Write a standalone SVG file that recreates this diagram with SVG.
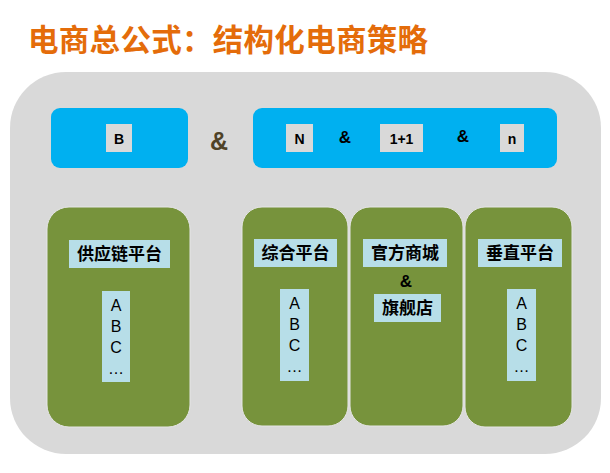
<svg xmlns="http://www.w3.org/2000/svg" width="610" height="473" viewBox="0 0 610 473">
<style>
.title{font-family:"Noto Sans CJK SC","Liberation Sans",sans-serif;font-weight:bold;font-size:30.5px;fill:#E46C0A}
.blue{fill:#00B0F0}
.green{fill:#77933C;stroke:#E6E6E6;stroke-width:1}
.gbox{fill:#D9D9D9}
.lbox{fill:#B7DEE8}
.sm{font-family:"Liberation Sans","Noto Sans CJK SC",sans-serif;font-weight:bold;font-size:14px;fill:#000;text-anchor:middle}
.amp{font-family:"Liberation Sans",sans-serif;font-weight:bold;font-size:17px;fill:#000;text-anchor:middle}
.cn{font-family:"Noto Sans CJK SC",sans-serif;font-weight:bold;font-size:17px;fill:#000;text-anchor:middle}
.lst{font-family:"Liberation Sans",sans-serif;font-size:16px;fill:#000;text-anchor:middle}
</style>
<rect width="610" height="473" fill="#FFFFFF"/>
<text class="title" x="28" y="51" textLength="400" lengthAdjust="spacing">电商总公式：结构化电商策略</text>
<rect x="10" y="72" width="591" height="382" rx="56" fill="#D9D9D9"/>

<g id="nodeB">
<rect class="blue" x="51" y="108" width="137" height="60" rx="9"/>
<rect class="gbox" x="106" y="124" width="26" height="28"/>
<text class="sm" x="119" y="143.5">B</text>
</g>
<g id="ampMain">
<text x="219" y="150" font-family="Liberation Sans,sans-serif" font-weight="bold" font-size="25" fill="#4F4227" text-anchor="middle">&amp;</text>
</g>
<g id="nodeN">
<rect class="blue" x="253" y="108" width="304" height="60" rx="9"/>
<rect class="gbox" x="286" y="124" width="27" height="28"/>
<text class="sm" x="299.5" y="143.5">N</text>
<text class="amp" x="345" y="143">&amp;</text>
<rect class="gbox" x="380" y="124" width="43" height="28"/>
<text class="sm" x="401.5" y="143.5">1+1</text>
<text class="amp" x="463" y="142">&amp;</text>
<rect class="gbox" x="500" y="124" width="24" height="28"/>
<text class="sm" x="512" y="143.5">n</text>
</g>

<g id="supply">
<rect class="green" x="47" y="207" width="143" height="220" rx="22"/>
<rect class="lbox" x="69" y="240" width="101" height="28"/>
<text class="cn" x="119.5" y="260">供应链平台</text>
<rect class="lbox" x="102" y="291" width="28" height="91"/>
<text class="lst" x="116" y="311">A</text>
<text class="lst" x="116" y="332">B</text>
<text class="lst" x="116" y="353">C</text>
<text class="lst" x="116" y="374">…</text>
</g>

<g id="comprehensive">
<rect class="green" x="242" y="207" width="106" height="219" rx="20"/>
<rect class="lbox" x="254" y="239" width="83" height="28"/>
<text class="cn" x="295.5" y="259">综合平台</text>
<rect class="lbox" x="280" y="289" width="29" height="92"/>
<text class="lst" x="294.5" y="309">A</text>
<text class="lst" x="294.5" y="330">B</text>
<text class="lst" x="294.5" y="351">C</text>
<text class="lst" x="294.5" y="372">…</text>
</g>

<g id="official">
<rect class="green" x="350" y="207" width="113" height="219" rx="20"/>
<rect class="lbox" x="363" y="239" width="84" height="28"/>
<text class="cn" x="405" y="259">官方商城</text>
<text class="amp" x="406" y="287">&amp;</text>
<rect class="lbox" x="374" y="294" width="67" height="28"/>
<text class="cn" x="407.5" y="314">旗舰店</text>
</g>

<g id="vertical">
<rect class="green" x="465" y="207" width="107" height="220" rx="20"/>
<rect class="lbox" x="478" y="239" width="84" height="28"/>
<text class="cn" x="520" y="259">垂直平台</text>
<rect class="lbox" x="507" y="289" width="29" height="92"/>
<text class="lst" x="521.5" y="309">A</text>
<text class="lst" x="521.5" y="330">B</text>
<text class="lst" x="521.5" y="351">C</text>
<text class="lst" x="521.5" y="372">…</text>
</g>
<g id="connectors"></g>
</svg>
